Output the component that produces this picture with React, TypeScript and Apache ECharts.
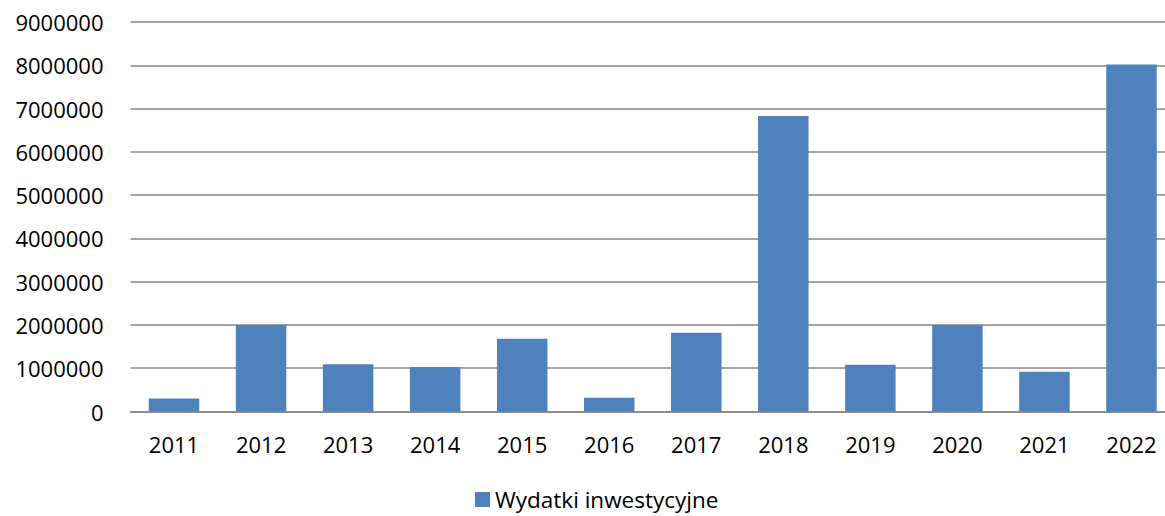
import React, { useEffect, useRef } from "react";
import * as echarts from "echarts";

const years = ["2011", "2012", "2013", "2014", "2015", "2016", "2017", "2018", "2019", "2020", "2021", "2022"];
const wydatki = [300000, 2000000, 1090000, 1030000, 1680000, 320000, 1820000, 6830000, 1080000, 2000000, 920000, 8020000];
const seriesName = "Wydatki inwestycyjne";

export default function App() {
  const ref = useRef<HTMLDivElement>(null);
  useEffect(() => {
    if (!ref.current) return;
    const chart = echarts.init(ref.current, null, { renderer: "svg" });
    const font = "Open Sans, Lato, sans-serif";
    chart.setOption({
      animation: false,
      backgroundColor: "#ffffff",
      grid: { left: 130.5, right: 0, top: 22, bottom: 104.5, containLabel: false },
      legend: {
        top: 483,
        left: 470,
        padding: 5,
        itemWidth: 15,
        itemHeight: 15,
        itemGap: 8,
        icon: "rect",
        textStyle: { fontFamily: font, fontSize: 22.5, color: "#000000" },
        data: [seriesName],
      },
      xAxis: {
        type: "category",
        data: years,
        axisTick: { show: false },
        axisLine: { lineStyle: { color: "#868686", width: 1.5 } },
        axisLabel: { fontFamily: font, fontSize: 22, color: "#000000", margin: 21 },
      },
      yAxis: {
        type: "value",
        min: 0,
        max: 9000000,
        interval: 1000000,
        axisLine: { show: false },
        axisTick: { show: false },
        splitLine: { lineStyle: { color: "#868686", width: 1.5 } },
        axisLabel: {
          fontFamily: font,
          fontSize: 22,
          color: "#000000",
          margin: 27,
          formatter: (v: number) => String(v),
        },
      },
      series: [
        {
          name: seriesName,
          type: "bar",
          data: wydatki,
          barCategoryGap: "42%",
          itemStyle: { color: "#4F81BD" },
        },
      ],
    });
    return () => chart.dispose();
  }, []);
  return (
    <div style={{ position: "fixed", left: 0, top: 0, width: 1165, height: 516, overflow: "hidden" }}>
      <div ref={ref} style={{ width: 1175, height: 516 }} />
    </div>
  );
}
